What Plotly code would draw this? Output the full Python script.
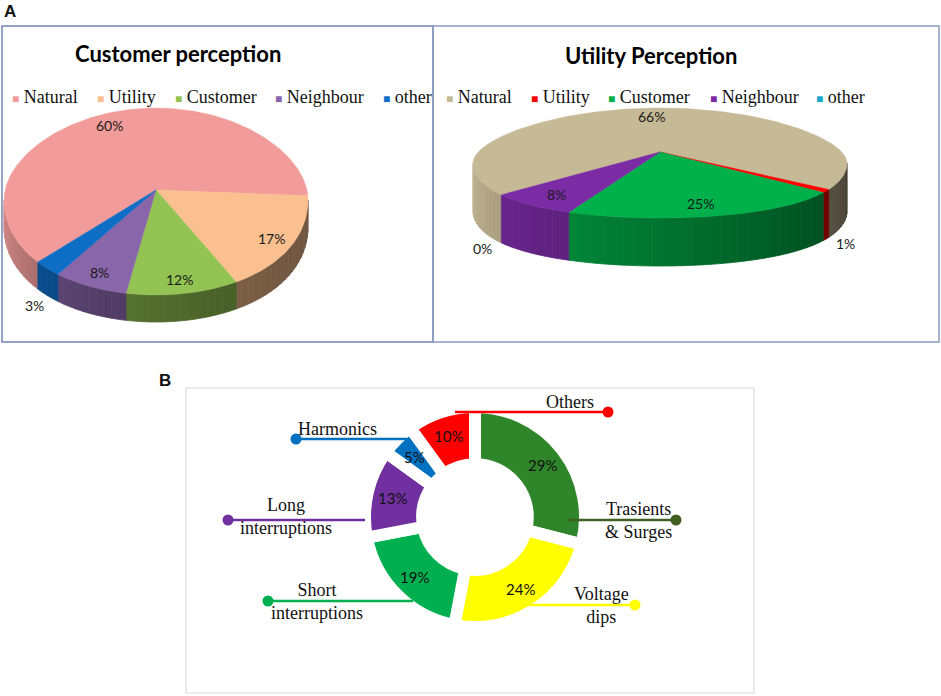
import numpy as np
import plotly.graph_objects as go

W, H = 941, 696

# ---------------- data ----------------
cust_labels = ["Natural", "Utility", "Customer", "Neighbour", "other"]
cust_values = [60, 17, 12, 8, 3]

util_labels = ["Natural", "Utility", "Customer", "Neighbour", "other"]
util_values = [66, 1, 25, 8, 0]

pq_labels = ["Trasients & Surges", "Voltage dips", "Short interruptions",
             "Long interruptions", "Harmonics", "Others"]
pq_values = [29, 24, 19, 13, 5, 10]

# ---------------- styles ----------------
cust_top = ["#F19C9B", "#FAC08F", "#93C353", "#8966AA", "#0E6EC6"]
util_top = ["#C6B996", "#FF0000", "#00B04A", "#7B2CA5", "#17A9C9"]
pq_colors = ["#2F862A", "#FFFF00", "#00B050", "#7030A0", "#0070C0", "#FF0000"]
pq_line_colors = ["#3F5F23", "#FFFF00", "#00B050", "#7030A0", "#0070C0", "#FF0000"]

SERIF = "Liberation Serif"
SANS = "Lato"

fig = go.Figure()
annotations = []
shapes = []


def shade(hexcol, f):
    h = hexcol.lstrip("#")
    r, g, b = (int(h[i:i + 2], 16) for i in (0, 2, 4))
    return "rgb(%d,%d,%d)" % (r * f, g * f, b * f)


def ell(theta, g, dy=0.0):
    t = np.radians(theta)
    c, s = np.cos(t), np.sin(t)
    r = np.where(c >= 0, g["rt"], g["rb"])
    x = g["cx"] + g["R"] * s
    y = g["cy"] - r * c + g["k"] * s ** 2 + dy
    return x, y


def pie3d(values, tops, g):
    total = float(sum(values))
    angles = [g["start"]]
    for v in values:
        angles.append(angles[-1] + 360.0 * v / total)
    # side walls (front half only), shaded by angle
    for i, v in enumerate(values):
        a0, a1 = angles[i], angles[i + 1]
        if a1 <= a0:
            continue
        for kk in range(-1, 3):
            lo = max(a0, 90 + 360 * kk)
            hi = min(a1, 270 + 360 * kk)
            if hi <= lo:
                continue
            nseg = max(1, int(np.ceil((hi - lo) / 3.0)))
            edges = np.linspace(lo, hi, nseg + 1)
            for j in range(nseg):
                s0, s1 = edges[j], edges[j + 1]
                m = ((s0 + s1) / 2.0 - 360 * kk - 90) / 180.0
                f = g["fmin"] + (g["fmax"] - g["fmin"]) * m ** g["p"]
                col = shade(tops[i], f)
                th = np.linspace(s0, s1, 4)
                xt, yt = ell(th, g)
                xb, yb = ell(th[::-1], g, g["depth"])
                fig.add_trace(go.Scatter(
                    x=np.concatenate([xt, xb, xt[:1]]),
                    y=np.concatenate([yt, yb, yt[:1]]),
                    fill="toself", fillcolor=col, mode="lines",
                    line=dict(color=col, width=0.8),
                    hoverinfo="skip", showlegend=False))
    # top faces
    for i, v in enumerate(values):
        a0, a1 = angles[i], angles[i + 1]
        if a1 <= a0:
            continue
        th = np.linspace(a0, a1, max(3, int((a1 - a0) / 1.0)))
        xt, yt = ell(th, g)
        fig.add_trace(go.Scatter(
            x=np.concatenate([[g["cx"]], xt, [g["cx"]]]),
            y=np.concatenate([[g["cy"]], yt, [g["cy"]]]),
            fill="toself", fillcolor=tops[i], mode="lines",
            line=dict(color=tops[i], width=0.5),
            hoverinfo="skip", showlegend=False))
    # percentage labels
    for i, v in enumerate(values):
        mid = (angles[i] + angles[i + 1]) / 2.0
        pct = 100.0 * v / total
        t = np.radians(mid)
        c, s = np.cos(t), np.sin(t)
        r = g["rt"] if c >= 0 else g["rb"]
        if pct < 5:
            f = g["fout"]
            dy = g["depth"]
        else:
            f = g["fin"]
            dy = 0
        x = g["cx"] + f * g["R"] * s
        y = g["cy"] - f * r * c + g["k"] * s ** 2 * f + dy
        annotations.append(dict(x=x, y=y, xref="x", yref="y",
                                text=f"{pct:.0f}%", showarrow=False,
                                font=dict(family=SANS, size=14, color="#1a1a1a")))


geo_cust = dict(cx=156, cy=190, R=152, rt=82, rb=105, k=10, depth=27,
                start=231, fin=0.86, fout=1.12, fmin=0.45, fmax=0.88, p=2)
geo_util = dict(cx=660, cy=152, R=187, rt=44, rb=66, k=11, depth=48,
                start=238, fin=0.8, fout=1.12, fmin=0.35, fmax=0.97, p=1)

pie3d(cust_values, cust_top, geo_cust)
pie3d(util_values, util_top, geo_util)

# ---------------- legends & titles for panel A ----------------
leg_cust_x = [10, 95, 173, 273, 381]
leg_util_x = [444, 529, 606, 708, 814]
for names, cols, xs in [(cust_labels, cust_top, leg_cust_x),
                        (util_labels, util_top, leg_util_x)]:
    for n, c, x in zip(names, cols, xs):
        annotations.append(dict(
            x=x, y=97, xref="x", yref="y", xanchor="left", yanchor="middle",
            text=f"<span style='color:{c};font-size:12px'>■</span> {n}",
            showarrow=False, font=dict(family=SERIF, size=18, color="#111")))

annotations.append(dict(x=178, y=53, xref="x", yref="y", text="<b>Customer perception</b>",
                        showarrow=False, font=dict(family=SANS, size=22, color="#000")))
annotations.append(dict(x=651, y=55, xref="x", yref="y", text="<b>Utility Perception</b>",
                        showarrow=False, font=dict(family=SANS, size=22, color="#000")))
annotations.append(dict(x=2, y=11, xref="x", yref="y", xanchor="left", text="<b>A</b>",
                        showarrow=False, font=dict(family="Liberation Sans", size=17, color="#111")))
annotations.append(dict(x=157, y=380, xref="x", yref="y", xanchor="left", text="<b>B</b>",
                        showarrow=False, font=dict(family="Liberation Sans", size=17, color="#111")))

shapes.append(dict(type="rect", xref="x", yref="y", x0=2, y0=26, x1=433, y1=342,
                   line=dict(color="#6F86B6", width=1.5)))
shapes.append(dict(type="rect", xref="x", yref="y", x0=433, y0=26, x1=939, y1=342,
                   line=dict(color="#8A9CC0", width=1.5)))
shapes.append(dict(type="rect", xref="x", yref="y", x0=186, y0=388, x1=754, y1=693,
                   line=dict(color="#DADADA", width=1.2)))

# ---------------- panel B donut ----------------
dcx, dcy, dR = 475, 517, 110
callouts = [  # (line start x, dot x, y, text x, text y)
    (567, 676, 520, 638, 520),
    (465, 635, 605, 601, 605),
    (413, 268, 601, 317, 601),
    (365, 228, 520, 286, 516),
    (407, 296, 439, 337, 429),
    (455, 608, 412, 570, 402),
]
for (x0, x1, y, tx, ty), lab, col in zip(callouts, pq_labels, pq_line_colors):
    shapes.append(dict(type="line", xref="x", yref="y", x0=x0, x1=x1, y0=y, y1=y,
                       layer="above", line=dict(color=col, width=2.5)))
    shapes.append(dict(type="circle", xref="x", yref="y", layer="above",
                       x0=x1 - 5.5, x1=x1 + 5.5, y0=y - 5.5, y1=y + 5.5,
                       fillcolor=col, line=dict(width=0)))
    words = lab.split(" ", 1)
    if lab == "Trasients & Surges":
        txt = "Trasients<br>& Surges"
    elif lab in ("Others", "Harmonics"):
        txt = lab
    else:
        txt = words[0] + "<br>" + words[1]
    annotations.append(dict(x=tx, y=ty, xref="x", yref="y", text=txt,
                            showarrow=False, align="center",
                            font=dict(family=SERIF, size=18, color="#111")))

fig.add_trace(go.Pie(
    values=pq_values, labels=pq_labels, sort=False, direction="clockwise",
    rotation=0, hole=0.48, textinfo="none", hoverinfo="label+percent",
    marker=dict(colors=pq_colors, line=dict(color="white", width=12)),
    domain=dict(x=[(dcx - dR) / W, (dcx + dR) / W],
                y=[1 - (dcy + dR) / H, 1 - (dcy - dR) / H]),
    showlegend=False))

tot = float(sum(pq_values))
cum = 0.0
for v in pq_values:
    mid = 360.0 * (cum + v / 2.0) / tot
    cum += v
    t = np.radians(mid)
    annotations.append(dict(x=dcx + 85 * np.sin(t), y=dcy - 85 * np.cos(t),
                            xref="x", yref="y", text=f"{100 * v / tot:.0f}%",
                            showarrow=False,
                            font=dict(family=SANS, size=15, color="#111")))

fig.update_layout(
    width=W, height=H, autosize=False,
    margin=dict(l=0, r=0, t=0, b=0),
    paper_bgcolor="white", plot_bgcolor="white",
    xaxis=dict(range=[0, W], visible=False, fixedrange=True, domain=[0, 1]),
    yaxis=dict(range=[H, 0], visible=False, fixedrange=True, domain=[0, 1]),
    annotations=annotations, shapes=shapes,
)

fig.write_html("out.html",
               config={"displayModeBar": False},
               post_script="document.body.style.margin='0px';"
                           "document.body.style.overflow='hidden';")
